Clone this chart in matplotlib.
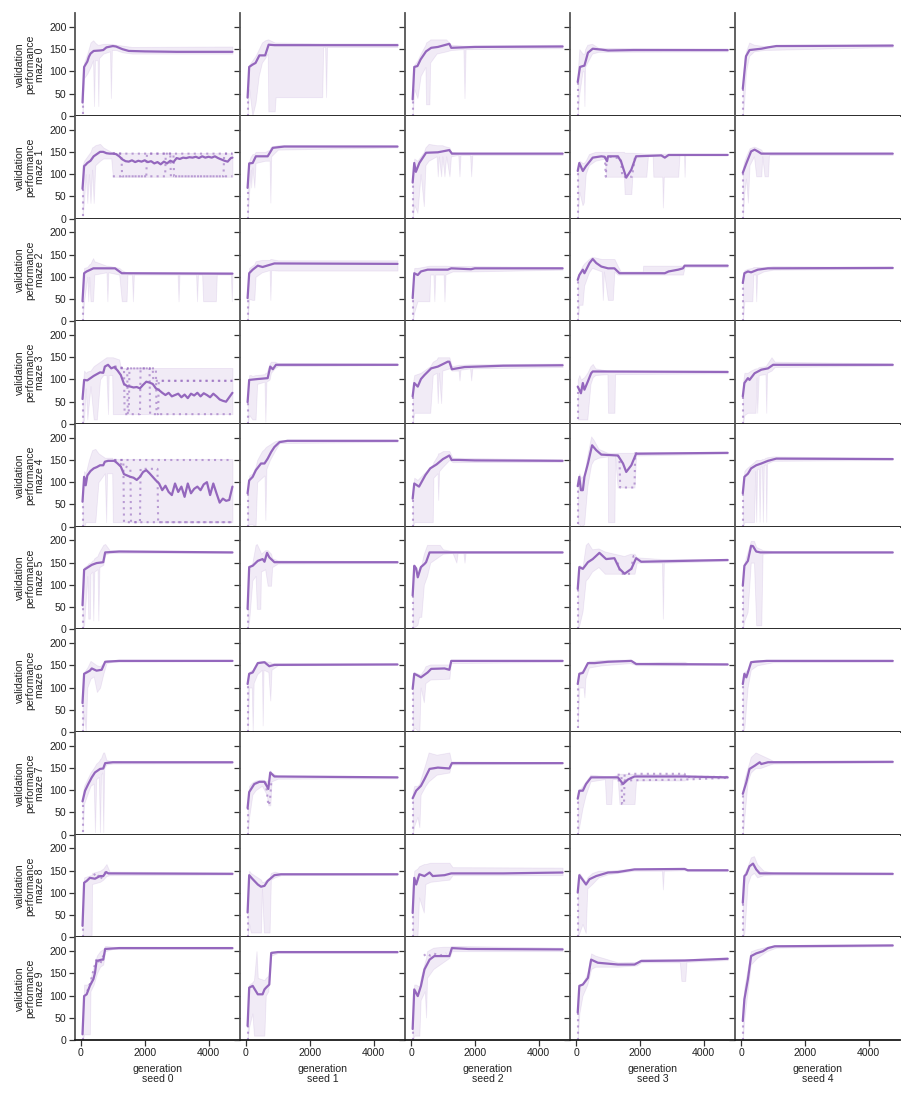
import numpy as np
import matplotlib
matplotlib.use("Agg")
import matplotlib.pyplot as plt

# ---------------- data ----------------
seeds = ["seed 0", "seed 1", "seed 2", "seed 3", "seed 4"]
mazes = ["maze %d" % i for i in range(10)]
x_ticks = [0, 2000, 4000]
y_ticks = [0, 50, 100, 150, 200]

# mean curves: per maze, one list of (generation, value) per seed
mean_m0 = [
    [(50,30),(100,110),(150,116),(200,122),(250,133),(300,140),(400,146),(600,147),(700,148),(800,154),(1000,157),(1100,156),(1300,150),(1500,146),(2000,145),(3000,144),(4750,144)],
    [(50,41),(100,110),(200,115),(300,119),(420,136),(600,136),(710,160),(900,159),(2000,159),(4750,159)],
    [(50,37),(100,110),(200,112),(300,127),(470,145),(630,153),(840,155),(1200,162),(1260,153),(2000,155),(4750,156)],
    [(50,76),(120,110),(260,113),(370,142),(520,151),(790,149),(1000,147),(1800,148),(4750,148)],
    [(50,61),(150,134),(260,148),(630,151),(840,154),(1100,157),(4750,158)],
]
mean_m1 = [
    [(50,67),(100,118),(150,121),(200,125),(300,130),(400,140),(500,145),(600,150),(700,150),(800,147),(900,146),(1000,146),(1100,145),(1200,140),(1300,133),(1400,129),(1500,128),(1600,131),(1700,127),(1800,130),(1900,128),(2000,131),(2100,127),(2200,129),(2300,124),(2400,127),(2500,122),(2600,128),(2700,124),(2800,130),(2900,127),(3000,136),(3100,134),(3200,137),(3300,136),(3400,138),(3500,137),(3600,139),(3700,136),(3800,140),(3900,137),(4000,139),(4100,137),(4200,140),(4300,136),(4400,133),(4500,130),(4600,128),(4700,136),(4750,137)],
    [(50,69),(100,124),(210,125),(310,140),(680,140),(840,159),(1200,162),(4750,162)],
    [(50,81),(100,125),(150,105),(260,125),(470,148),(840,149),(1200,154),(1280,146),(4750,146)],
    [(50,107),(100,125),(210,107),(310,118),(520,137),(790,140),(890,139),(970,129),(1000,140),(1310,140),(1410,128),(1570,92),(1730,110),(1880,140),(2670,142),(2780,137),(2900,143),(4750,143)],
    [(50,103),(160,124),(310,151),(420,155),(520,151),(630,146),(4750,146)],
]
mean_m2 = [
    [(50,45),(100,108),(180,112),(390,119),(1070,119),(1280,108),(4750,107)],
    [(50,52),(100,108),(210,116),(370,125),(520,122),(890,130),(4750,129)],
    [(50,52),(100,108),(210,104),(310,112),(520,116),(1150,116),(1260,119),(1880,117),(2000,119),(4750,119)],
    [(50,93),(100,104),(210,116),(260,108),(420,131),(520,140),(630,131),(790,123),(1000,119),(1200,119),(1360,108),(2780,108),(2900,112),(3200,116),(3350,119),(3400,125),(4750,125)],
    [(50,86),(100,108),(210,112),(310,110),(520,116),(840,119),(4750,120)],
]
mean_m3 = [
    [(50,56),(100,99),(200,98),(300,103),(400,108),(500,112),(600,116),(700,115),(750,129),(850,133),(950,125),(1050,128),(1150,120),(1250,110),(1350,90),(1450,85),(1550,84),(1650,82),(1750,83),(1850,80),(1950,88),(2050,95),(2150,93),(2250,90),(2350,80),(2450,76),(2550,70),(2650,65),(2750,70),(2850,62),(2950,65),(3050,68),(3150,60),(3250,66),(3350,58),(3450,68),(3550,64),(3650,70),(3750,62),(3850,69),(3950,65),(4050,60),(4150,68),(4250,62),(4350,55),(4450,52),(4550,50),(4650,60),(4750,70)],
    [(50,49),(100,99),(370,101),(680,103),(760,129),(840,123),(940,133),(4750,133)],
    [(50,62),(100,92),(210,84),(310,101),(420,110),(630,125),(840,129),(1150,140),(1200,140),(1280,123),(1680,128),(2900,131),(4750,132)],
    [(50,84),(150,69),(210,92),(260,77),(370,96),(470,114),(520,118),(4750,117)],
    [(50,62),(100,92),(210,103),(260,99),(420,114),(630,122),(840,125),(1000,133),(4750,133)],
]
mean_m4 = [
    [(50,56),(100,112),(150,93),(200,115),(250,120),(300,125),(400,131),(500,134),(600,138),(700,138),(750,146),(850,148),(950,148),(1050,148),(1150,142),(1250,135),(1350,118),(1450,115),(1550,112),(1650,110),(1750,105),(1850,112),(1950,123),(2050,127),(2150,120),(2250,112),(2350,104),(2450,97),(2550,82),(2650,92),(2750,78),(2850,71),(2950,97),(3050,78),(3150,90),(3250,67),(3350,97),(3450,75),(3550,85),(3650,90),(3750,82),(3850,95),(3950,100),(4050,71),(4150,97),(4250,75),(4350,54),(4450,63),(4550,58),(4650,60),(4750,90)],
    [(50,75),(100,104),(210,112),(310,127),(470,142),(580,142),(680,153),(790,168),(890,179),(1050,190),(1300,193),(4750,193)],
    [(50,63),(100,97),(250,90),(350,103),(450,116),(600,131),(800,140),(1000,152),(1200,160),(1270,150),(1500,150),(2000,149),(4750,148)],
    [(50,91),(100,112),(150,82),(210,82),(260,112),(370,142),(500,183),(630,172),(790,162),(1310,160),(1470,142),(1570,123),(1730,138),(1880,164),(4750,166)],
    [(50,75),(100,112),(210,119),(310,131),(470,138),(630,142),(840,148),(1100,153),(4750,152)],
]
mean_m5 = [
    [(50,54),(100,134),(230,140),(340,145),(490,149),(700,151),(760,173),(1200,175),(4750,173)],
    [(50,46),(100,140),(210,143),(370,154),(520,158),(580,152),(660,172),(730,162),(890,151),(4750,151)],
    [(50,76),(100,143),(160,137),(210,117),(310,140),(420,147),(470,151),(580,173),(4750,173)],
    [(50,91),(100,140),(210,136),(370,151),(520,158),(730,172),(940,158),(1200,160),(1360,136),(1520,125),(1730,136),(1880,160),(2040,152),(3400,154),(4750,156)],
    [(50,98),(100,143),(210,154),(310,188),(370,187),(470,175),(600,173),(4750,173)],
]
mean_m6 = [
    [(50,65),(100,131),(180,134),(280,138),(340,143),(490,138),(650,140),(760,158),(1200,160),(4750,160)],
    [(50,108),(100,131),(210,134),(370,155),(580,157),(730,148),(890,151),(4750,152)],
    [(50,97),(100,131),(210,127),(310,123),(520,134),(630,142),(1050,143),(1200,140),(1260,160),(4750,160)],
    [(50,108),(100,131),(210,133),(370,155),(580,155),(1000,158),(1730,160),(1880,153),(4750,152)],
    [(50,108),(100,131),(160,123),(210,134),(310,157),(420,158),(800,160),(4750,160)],
]
mean_m7 = [
    [(50,75),(130,99),(230,114),(340,129),(440,140),(600,148),(700,149),(760,161),(1000,163),(4750,163)],
    [(50,60),(100,96),(260,114),(420,119),(580,119),(700,103),(760,140),(890,131),(4750,129)],
    [(50,82),(160,99),(310,110),(420,125),(580,148),(840,151),(1200,149),(1280,161),(4750,161)],
    [(50,81),(100,99),(210,99),(310,114),(470,129),(1310,129),(1470,114),(1620,124),(1830,131),(3400,131),(4750,129)],
    [(50,92),(160,118),(260,148),(420,155),(580,163),(630,159),(840,163),(4750,164)],
]
mean_m8 = [
    [(50,26),(100,123),(180,127),(280,134),(440,132),(600,138),(700,138),(790,147),(860,144),(4750,143)],
    [(50,56),(100,140),(210,131),(370,119),(470,114),(580,116),(680,127),(890,140),(1100,142),(4750,142)],
    [(50,55),(100,134),(160,119),(260,142),(420,138),(580,146),(680,138),(1050,140),(1260,144),(2900,144),(4750,146)],
    [(50,101),(100,140),(210,129),(310,119),(420,131),(630,138),(1000,146),(1310,147),(1830,153),(3400,154),(3500,151),(4750,151)],
    [(50,78),(100,138),(160,142),(260,160),(370,166),(470,153),(580,144),(4750,143)],
]
mean_m9 = [
    [(50,13),(100,99),(180,103),(280,122),(390,137),(440,151),(490,178),(650,181),(700,181),(760,205),(1200,207),(4750,207)],
    [(50,32),(100,118),(210,122),(370,103),(520,103),(580,114),(630,118),(730,125),(790,196),(1000,198),(4750,198)],
    [(50,25),(100,114),(210,99),(310,122),(420,159),(580,181),(730,189),(1200,189),(1280,207),(1800,205),(4750,204)],
    [(50,62),(100,122),(210,125),(370,140),(470,181),(680,174),(1310,170),(1830,170),(2040,178),(3400,179),(4750,183)],
    [(50,43),(100,92),(210,137),(310,189),(470,195),(680,200),(840,207),(1050,211),(4750,213)],
]

# min/max band: per maze, one list of (generation, low, high) per seed
band_m0 = [
    [(50,5,45),(100,85,120),(200,95,140),(300,110,165),(380,125,170),(410,22,168),(440,125,165),(520,125,160),(545,22,160),(570,130,160),(700,140,162),(910,145,162),(940,40,162),(970,148,162),(1100,148,160),(1300,143,158),(1600,140,155),(4750,140,156)],
    [(50,0,45),(100,60,115),(200,0,125),(300,30,135),(400,90,150),(500,120,165),(600,130,170),(680,140,172),(700,10,172),(900,10,165),(930,42,165),(2390,42,163),(2420,155,163),(2480,155,163),(2510,42,163),(2540,155,163),(4750,155,163)],
    [(50,0,45),(100,60,115),(200,40,125),(300,90,140),(450,110,160),(470,26,165),(575,26,170),(600,120,172),(800,140,172),(1100,145,172),(1250,148,160),(1640,150,158),(1675,40,158),(1710,150,158),(4750,152,160)],
    [(50,0,100),(100,50,150),(200,100,140),(240,100,140),(260,22,140),(280,110,150),(350,120,160),(500,140,162),(700,144,153),(4750,145,151)],
    [(50,0,80),(100,40,130),(150,100,145),(250,135,165),(400,145,160),(700,148,157),(4750,155,161)],
]
band_m1 = [
    [(50,5,120),(100,40,130),(150,100,135),(200,35,140),(250,100,145),(300,35,150),(350,110,160),(400,35,162),(450,120,165),(600,130,168),(700,135,160),(950,135,150),(1000,94,148),(4750,94,147)],
    [(50,0,100),(100,60,130),(150,110,140),(160,70,140),(200,115,145),(260,70,145),(300,125,150),(600,130,150),(740,130,155),(764,36,160),(790,140,162),(1000,155,165),(4750,160,164)],
    [(50,0,90),(100,30,135),(200,13,130),(300,100,140),(400,28,150),(450,120,160),(550,130,168),(800,140,165),(837,95,165),(870,140,165),(942,95,165),(980,140,165),(1047,95,163),(1100,140,162),(1204,95,160),(1250,140,150),(1480,143,148),(1518,95,148),(1550,143,148),(1850,143,148),(1884,95,148),(1920,143,148),(4750,143,148)],
    [(50,0,115),(100,60,130),(200,30,125),(240,36,125),(300,100,130),(400,120,145),(600,130,150),(900,135,150),(940,94,150),(1500,94,150),(1520,55,148),(1730,55,148),(1760,94,148),(2200,94,146),(2250,140,146),(2400,140,146),(2420,94,146),(2700,94,146),(2720,25,146),(2750,94,146),(3200,94,146),(3240,143,146),(3380,143,146),(3400,94,146),(3420,143,146),(4750,143,146)],
    [(50,0,115),(100,60,130),(150,90,140),(210,36,150),(260,120,158),(400,140,162),(470,95,160),(630,95,155),(660,140,150),(730,95,148),(840,95,148),(870,143,148),(4750,143,148)],
]
band_m2 = [
    [(50,0,80),(100,45,120),(200,100,122),(230,45,125),(260,100,128),(300,45,130),(380,45,142),(420,105,135),(800,110,125),(830,45,125),(860,110,125),(1200,105,120),(1280,45,115),(1430,45,110),(1460,105,110),(1600,105,110),(1630,45,110),(1660,105,110),(3030,105,110),(3060,45,110),(3090,105,110),(3610,105,110),(3640,45,110),(3670,105,110),(3800,105,110),(3830,45,110),(4230,45,110),(4260,105,110),(4700,105,110),(4730,45,110),(4750,105,110)],
    [(50,0,80),(100,50,120),(200,48,125),(260,48,128),(300,100,135),(500,110,138),(740,115,138),(764,48,140),(790,115,140),(1000,114,137),(4750,114,137)],
    [(50,0,80),(100,20,120),(200,45,120),(575,45,125),(600,105,125),(700,105,125),(730,45,125),(760,105,125),(1020,105,125),(1047,45,125),(1080,105,125),(1300,112,124),(1900,112,124),(4750,116,122)],
    [(50,0,100),(100,37,110),(200,37,125),(250,80,130),(400,110,140),(500,120,145),(800,112,140),(837,48,140),(870,112,140),(995,48,140),(1150,48,140),(1200,112,140),(1300,105,125),(1400,105,112),(2090,105,112),(2100,105,125),(3350,105,125),(3400,122,127),(4750,122,127)],
    [(50,0,100),(100,45,115),(200,45,118),(350,45,120),(380,105,122),(450,105,122),(470,45,122),(500,105,122),(700,112,122),(1000,116,124),(4750,118,122)],
]
band_m3 = [
    [(50,0,80),(100,10,120),(150,80,115),(200,10,118),(300,85,120),(400,10,130),(500,10,135),(600,100,140),(700,110,145),(800,110,150),(850,22,150),(870,110,150),(980,110,150),(1000,22,150),(1200,22,145),(1250,22,126),(4750,22,126)],
    [(50,0,70),(100,20,110),(150,15,110),(200,10,108),(300,10,110),(350,90,110),(580,95,112),(607,5,115),(640,95,115),(740,100,135),(780,115,140),(900,125,140),(1000,130,137),(4750,132,136)],
    [(50,0,90),(100,25,110),(300,25,115),(400,25,120),(600,25,130),(680,110,140),(800,115,145),(837,47,150),(870,115,150),(942,47,150),(980,120,150),(1200,125,150),(1280,120,130),(1490,120,133),(1518,98,133),(1550,122,133),(1850,125,134),(1884,98,134),(1920,125,134),(4750,128,136)],
    [(50,10,100),(100,10,110),(150,10,100),(250,10,105),(350,10,115),(450,90,130),(520,105,135),(600,110,125),(980,112,120),(1000,25,120),(1200,25,120),(1220,112,120),(4750,114,118)],
    [(50,0,90),(100,20,115),(200,25,115),(300,25,120),(450,25,125),(480,105,125),(500,25,125),(550,110,128),(760,112,130),(785,25,132),(810,115,135),(950,120,150),(1050,128,140),(4750,131,136)],
]
band_m4 = [
    [(50,0,80),(100,0,125),(150,10,120),(250,10,150),(350,10,172),(450,10,175),(550,100,165),(650,110,160),(750,120,155),(790,10,155),(820,120,155),(980,120,155),(1000,10,152),(4750,10,152)],
    [(50,0,80),(100,5,115),(200,5,120),(300,0,135),(350,100,150),(500,110,170),(580,115,175),(607,15,178),(640,130,180),(750,150,185),(900,170,192),(1050,188,195),(4750,191,195)],
    [(50,0,80),(100,10,110),(200,10,105),(680,10,140),(700,110,145),(830,120,160),(850,60,165),(880,125,165),(1000,135,170),(1200,150,170),(1300,145,155),(4750,146,151)],
    [(50,5,100),(100,5,120),(150,0,110),(250,5,115),(350,90,160),(470,140,203),(550,150,195),(700,155,175),(990,158,166),(1000,10,166),(1200,10,166),(1220,158,166),(1300,88,166),(1830,88,166),(1880,160,168),(4750,164,168)],
    [(50,0,90),(100,10,125),(150,10,130),(400,10,145),(440,125,148),(470,11,150),(500,130,150),(550,130,150),(575,11,150),(610,135,150),(650,135,152),(680,11,152),(710,138,152),(760,140,155),(785,11,155),(810,142,156),(1000,148,158),(4750,150,154)],
]
band_m5 = [
    [(50,0,60),(100,10,140),(200,120,145),(230,24,148),(280,24,150),(300,125,150),(360,130,155),(387,20,155),(420,130,160),(520,135,165),(545,20,170),(580,140,175),(700,145,190),(760,168,192),(900,172,178),(4750,172,175)],
    [(50,0,70),(100,20,140),(200,110,150),(300,120,190),(340,46,192),(450,46,175),(470,130,170),(600,135,178),(680,98,178),(785,98,170),(820,140,160),(1000,148,155),(4750,149,153)],
    [(50,0,100),(100,5,145),(200,10,125),(250,28,140),(320,28,145),(400,100,170),(500,120,190),(600,150,190),(900,165,190),(1000,170,180),(1300,172,176),(1420,150,176),(1460,172,176),(1640,172,176),(1675,150,176),(1710,172,176),(4750,172,175)],
    [(50,0,90),(100,10,145),(200,40,140),(300,110,190),(370,115,195),(500,130,180),(700,140,182),(900,125,175),(1500,125,165),(1700,125,170),(1830,125,170),(1900,150,162),(2690,150,158),(2720,24,158),(2750,150,158),(4750,154,158)],
    [(50,0,110),(100,20,150),(200,39,175),(300,150,199),(400,150,199),(470,9,185),(630,9,180),(670,170,178),(1000,172,176),(4750,172,175)],
]
band_m6 = [
    [(50,0,70),(100,40,135),(150,0,140),(200,100,145),(300,120,160),(400,125,155),(500,90,150),(600,100,148),(700,130,155),(800,155,162),(1000,158,162),(4750,159,162)],
    [(50,0,120),(100,100,135),(180,100,140),(210,0,140),(240,110,145),(350,130,158),(500,140,160),(523,15,160),(550,140,160),(700,135,158),(760,71,158),(800,140,155),(1000,150,155),(4750,151,154)],
    [(50,0,110),(100,10,135),(260,0,130),(300,100,130),(400,67,140),(450,110,148),(600,118,152),(1200,120,152),(1250,155,162),(4750,158,162)],
    [(50,10,115),(100,100,135),(230,100,140),(260,78,140),(290,120,150),(400,145,160),(800,150,162),(1700,155,163),(1900,150,155),(2700,150,158),(3400,150,158),(3500,151,155),(4750,151,155)],
    [(50,0,115),(100,10,135),(200,100,140),(300,140,160),(500,150,162),(1000,157,162),(4750,158,162)],
]
band_m7 = [
    [(50,5,90),(100,70,110),(200,90,125),(300,110,140),(400,115,150),(440,6,155),(480,125,160),(560,130,165),(597,6,170),(630,135,172),(670,140,180),(700,6,185),(730,150,185),(800,158,168),(1000,160,165),(4750,161,164)],
    [(50,0,70),(100,40,110),(200,90,118),(300,100,122),(500,110,124),(650,90,120),(700,66,125),(764,66,145),(800,120,140),(1000,126,132),(4750,127,130)],
    [(50,0,95),(100,20,110),(200,40,110),(260,17,115),(300,90,125),(450,110,160),(550,120,185),(800,135,180),(1200,140,185),(1260,158,165),(4750,160,163)],
    [(50,0,95),(100,20,100),(200,60,110),(300,90,120),(450,120,135),(900,125,132),(940,69,132),(1100,69,132),(1140,125,132),(1300,125,135),(1360,69,137),(1830,69,137),(1880,122,137),(3400,122,137),(3450,126,132),(4750,127,131)],
    [(50,0,100),(100,40,125),(200,120,150),(300,140,175),(450,150,185),(600,150,180),(900,158,170),(1000,160,166),(4750,162,165)],
]
band_m8 = [
    [(50,0,60),(100,5,135),(300,5,140),(335,5,140),(350,120,145),(600,125,150),(700,130,155),(800,138,165),(900,140,148),(4750,141,146)],
    [(50,0,100),(100,30,150),(150,11,145),(470,11,130),(500,110,125),(560,11,125),(740,11,135),(780,130,145),(900,135,148),(1100,140,144),(4750,141,144)],
    [(50,0,110),(100,0,150),(200,0,155),(250,90,160),(400,56,165),(450,120,165),(600,125,168),(1200,130,168),(1300,140,158),(4750,140,157)],
    [(50,0,110),(100,10,145),(200,30,135),(300,10,125),(350,110,135),(500,120,145),(700,135,150),(1000,142,150),(1800,150,155),(2690,150,156),(2720,108,156),(2750,150,156),(3400,151,156),(3500,149,153),(4750,149,153)],
    [(50,0,100),(100,10,145),(200,120,160),(300,140,180),(400,145,183),(500,135,165),(700,140,150),(1000,141,146),(4750,141,145)],
]
band_m9 = [
    [(50,0,30),(100,13,125),(200,13,125),(280,13,130),(300,110,140),(400,125,165),(500,150,190),(600,165,200),(700,170,205),(760,200,212),(1000,205,210),(4750,205,209)],
    [(50,0,60),(100,30,125),(200,60,130),(250,10,135),(330,10,200),(370,10,140),(575,10,135),(620,100,140),(700,110,145),(790,190,200),(1000,196,200),(4750,196,200)],
    [(50,0,60),(100,10,125),(150,10,125),(260,10,120),(300,90,140),(430,110,175),(470,51,185),(500,140,200),(700,160,208),(1000,175,210),(1200,185,210),(1280,200,212),(4750,200,208)],
    [(50,0,90),(100,60,125),(200,100,128),(350,125,150),(470,160,195),(600,165,190),(1300,165,175),(1900,168,176),(2040,175,182),(3250,175,182),(3300,133,182),(3420,133,182),(3460,176,182),(4750,180,186)],
    [(50,0,80),(100,50,120),(200,110,160),(300,170,200),(500,185,205),(800,200,210),(1100,208,214),(4750,211,214)],
]

# individual runs (dotted) where they separate from the mean: (maze, seed, [(gen, value), ...])
runs = [
    (1, 0, [(1000,147),(1270,146),(1290,95),(2050,95),(2070,146),(4750,146)]),
    (1, 0, [(1000,95),(2640,95),(2660,146),(2800,146),(2820,95),(4750,95)]),
    (1, 0, [(1000,146),(2900,146),(2920,95),(4470,95),(4490,146),(4750,146)]),
    (3, 0, [(1050,130),(1350,125),(1370,22),(1500,22),(1520,125),(2250,125),(2270,97),(4750,97)]),
    (3, 0, [(1050,128),(1450,125),(1470,22),(1850,22),(1870,125),(2150,125),(2170,22),(4750,22)]),
    (3, 0, [(1050,125),(2350,125),(2370,22),(2420,22),(2440,97),(4750,97)]),
    (4, 0, [(1050,150),(1330,150),(1350,10),(4750,10)]),
    (4, 0, [(1050,148),(1550,130),(1570,10),(1850,10),(1870,130),(2400,130),(2420,10),(4750,10)]),
    (4, 0, [(1050,150),(4750,150)]),
    (4, 3, [(1300,160),(1360,155),(1380,88),(1830,88),(1850,165),(2000,166)]),
    (1, 3, [(900,140),(930,94),(960,140),(1400,135),(1450,94),(1750,94),(1850,140)]),
    (7, 1, [(600,118),(650,100),(700,66),(750,75),(800,125)]),
    (7, 3, [(1300,135),(1420,135),(1440,69),(1500,69),(1520,137),(3400,137),(3420,130),(4750,130)]),
    (7, 3, [(1300,122),(3400,124),(4750,128)]),
    (5, 3, [(1300,150),(1400,125),(1700,125),(1800,165),(1900,162)]),
    (8, 0, [(400,140),(500,145),(600,130),(700,140),(800,150)]),
    (9, 0, [(200,110),(300,130),(400,160),(500,185),(600,170),(700,190)]),
    (9, 2, [(400,190),(500,195),(600,190),(700,195),(900,190),(1100,195)]),
]

mean_all = [mean_m0, mean_m1, mean_m2, mean_m3, mean_m4, mean_m5, mean_m6, mean_m7, mean_m8, mean_m9]
band_all = [band_m0, band_m1, band_m2, band_m3, band_m4, band_m5, band_m6, band_m7, band_m8, band_m9]

# ---------------- drawing ----------------
plt.rcParams['font.family'] = ['Liberation Sans', 'DejaVu Sans']
col = '#9467bd'
text_col = '#222222'
fs = 7.6

fig, axes = plt.subplots(10, 5, figsize=(9.13, 10.96), dpi=100, sharex=True, sharey=True)
fig.subplots_adjust(left=0.082, right=0.986, top=0.988, bottom=0.051, wspace=0, hspace=0)

for r in range(10):
    for c in range(5):
        ax = axes[r, c]
        b = np.array(band_all[r][c], dtype=float)
        m = np.array(mean_all[r][c], dtype=float)
        ax.fill_between(b[:, 0], b[:, 1], b[:, 2], color=col, alpha=0.13, lw=0.6)
        # first evaluated runs: from the band's low value up to the mean at the first generation
        ax.plot([b[0, 0], m[0, 0]], [b[0, 1], m[0, 1]], ls=(0, (1, 2)), color=col, alpha=0.6, lw=1.5)
        for (mr, mc, pts) in runs:
            if mr == r and mc == c:
                p = np.array(pts, dtype=float)
                ax.plot(p[:, 0], p[:, 1], ls=(0, (1, 2)), color=col, alpha=0.6, lw=1.5)
        ax.plot(m[:, 0], m[:, 1], color=col, lw=1.6, solid_capstyle='round')
        for s in ['top', 'right']:
            ax.spines[s].set_visible(False)
        ax.spines['left'].set_color('#555555')
        ax.spines['left'].set_linewidth(1.3)
        ax.spines['bottom'].set_color('#1a1a1a')
        ax.spines['bottom'].set_linewidth(1.3)
        ax.tick_params(direction='out', length=4, width=0.9, color='#333333',
                       labelsize=fs, labelcolor=text_col, pad=2)
        if c == 0:
            ax.set_ylabel("validation\nperformance\n" + mazes[r], fontsize=fs,
                          labelpad=3, color=text_col, linespacing=1.0)
        if r == 9:
            ax.set_xlabel("generation\n" + seeds[c], fontsize=fs, labelpad=4,
                          color=text_col, linespacing=1.0)

axes[0, 0].set_xlim(-190, 4985)
axes[0, 0].set_ylim(0, 231)
axes[0, 0].set_xticks(x_ticks)
axes[0, 0].set_yticks(y_ticks)

fig.savefig("out.png", dpi=100)
